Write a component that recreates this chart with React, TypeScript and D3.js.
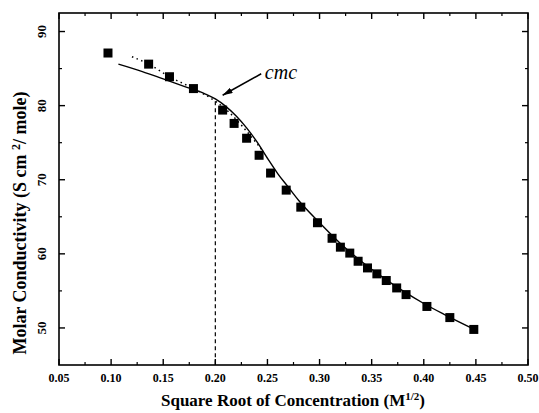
import React from 'react';
import * as d3 from 'd3';

// measured points
const sqrtConc = [0.097, 0.136, 0.156, 0.179, 0.207, 0.218, 0.23, 0.242, 0.253, 0.268, 0.282, 0.298, 0.312, 0.32, 0.329, 0.337, 0.346, 0.355, 0.364, 0.374, 0.383, 0.403, 0.425, 0.448];
const molarCond = [87.1, 85.6, 83.9, 82.3, 79.4, 77.6, 75.6, 73.3, 70.9, 68.6, 66.3, 64.2, 62.1, 60.9, 60.1, 59.0, 58.1, 57.3, 56.4, 55.4, 54.5, 52.9, 51.4, 49.8];

// fitted curve (solid)
const fitX = [0.107, 0.13, 0.15, 0.17, 0.19, 0.2, 0.21, 0.22, 0.23, 0.24, 0.25, 0.26, 0.27, 0.28, 0.3, 0.32, 0.34, 0.36, 0.38, 0.4, 0.42, 0.45];
const fitY = [85.6, 84.6, 83.6, 82.6, 81.6, 80.9, 79.9, 78.6, 77.0, 75.1, 72.9, 70.8, 69.0, 67.2, 64.2, 61.4, 59.0, 56.9, 55.0, 53.3, 51.8, 49.7];

// dotted guide near the break
const dotX = [0.12, 0.136, 0.156, 0.179, 0.2, 0.214, 0.226, 0.238, 0.246];
const dotY = [86.6, 85.6, 83.9, 82.3, 80.6, 79.0, 77.2, 75.2, 73.8];

const cmcX = 0.2;
const cmcY = 80.6;

const xTicks = [0.05, 0.1, 0.15, 0.2, 0.25, 0.3, 0.35, 0.4, 0.45, 0.5];
const xMinor = [0.075, 0.125, 0.175, 0.225, 0.275, 0.325, 0.375, 0.425, 0.475];
const yTicks = [50, 60, 70, 80, 90];
const yMinor = [55, 65, 75, 85];

const W = 539;
const H = 413;
const left = 59, right = 528, top = 13, bottom = 365;

const x = d3.scaleLinear().domain([0.05, 0.5]).range([left, right]);
const y = d3.scaleLinear().domain([45, 92.5]).range([bottom, top]);

const font = 'Liberation Serif, DejaVu Serif, serif';

export default function App() {
  const fitLine = d3.line<number>()
    .x((d, i) => x(fitX[i]))
    .y(d => y(d))
    .curve(d3.curveMonotoneX);
  const dotLine = d3.line<number>()
    .x((d, i) => x(dotX[i]))
    .y(d => y(d))
    .curve(d3.curveMonotoneX);

  const sq = 9;
  const fmt = d3.format('.2f');

  // arrow to cmc
  const ax1 = x(0.244), ay1 = y(84.3);
  const ax2 = x(0.207), ay2 = y(81.4);

  return (
    <svg width={W} height={H} style={{ position: 'absolute', left: 0, top: 0, background: '#fff' }}>
      <defs>
        <marker id="arr" viewBox="0 0 10 6" refX="10" refY="3" markerWidth="10" markerHeight="6" orient="auto" markerUnits="userSpaceOnUse">
          <path d="M0,0 L10,3 L0,6 Z" fill="#000" />
        </marker>
      </defs>

      {/* frame */}
      <rect x={left} y={top} width={right - left} height={bottom - top} fill="none" stroke="#000" strokeWidth={1.6} />

      {/* x ticks (bottom & top, inward) */}
      {xTicks.map(t => (
        <g key={'xt' + t}>
          <line x1={x(t)} x2={x(t)} y1={bottom} y2={bottom - 6} stroke="#000" strokeWidth={1.4} />
          <line x1={x(t)} x2={x(t)} y1={top} y2={top + 6} stroke="#000" strokeWidth={1.4} />
          <text x={x(t)} y={382} textAnchor="middle" fontFamily={font} fontSize={12} fontWeight="bold">{fmt(t)}</text>
        </g>
      ))}
      {xMinor.map(t => (
        <g key={'xm' + t}>
          <line x1={x(t)} x2={x(t)} y1={bottom} y2={bottom - 3} stroke="#000" strokeWidth={1.2} />
          <line x1={x(t)} x2={x(t)} y1={top} y2={top + 3} stroke="#000" strokeWidth={1.2} />
        </g>
      ))}

      {/* y ticks (left & right, inward) */}
      {yTicks.map(t => (
        <g key={'yt' + t}>
          <line x1={left} x2={left + 6} y1={y(t)} y2={y(t)} stroke="#000" strokeWidth={1.4} />
          <line x1={right} x2={right - 6} y1={y(t)} y2={y(t)} stroke="#000" strokeWidth={1.4} />
          <text transform={`translate(46,${y(t)}) rotate(-90)`} textAnchor="middle" fontFamily={font} fontSize={13} fontWeight="bold">{t}</text>
        </g>
      ))}
      {yMinor.map(t => (
        <g key={'ym' + t}>
          <line x1={left} x2={left + 3} y1={y(t)} y2={y(t)} stroke="#000" strokeWidth={1.2} />
          <line x1={right} x2={right - 3} y1={y(t)} y2={y(t)} stroke="#000" strokeWidth={1.2} />
        </g>
      ))}

      {/* axis titles */}
      <text x={293} y={406} textAnchor="middle" fontFamily={font} fontSize={17} fontWeight="bold">
        Square Root of Concentration (M<tspan dy={-6} fontSize={11}>1/2</tspan><tspan dy={6}>)</tspan>
      </text>
      <text transform={`translate(26,223) rotate(-90)`} textAnchor="middle" fontFamily={font} fontSize={18} fontWeight="bold">
        Molar Conductivity (S cm <tspan dy={-6} fontSize={12}>2</tspan><tspan dy={6}>/ mole)</tspan>
      </text>

      {/* cmc marker */}
      <line x1={x(cmcX)} x2={x(cmcX)} y1={y(cmcY)} y2={bottom} stroke="#000" strokeWidth={1.2} strokeDasharray="4,3" />
      <path d={dotLine(dotY) || ''} fill="none" stroke="#000" strokeWidth={1.5} strokeDasharray="1.5,3.5" />
      <path d={fitLine(fitY) || ''} fill="none" stroke="#000" strokeWidth={1.4} />

      {sqrtConc.map((v, i) => (
        <rect key={'p' + i} x={x(v) - sq / 2} y={y(molarCond[i]) - sq / 2} width={sq} height={sq} fill="#000" />
      ))}

      <line x1={ax1} y1={ay1} x2={ax2} y2={ay2} stroke="#000" strokeWidth={1.5} markerEnd="url(#arr)" />
      <text x={x(0.2475)} y={y(83.6)} fontFamily={font} fontSize={20} fontStyle="italic">cmc</text>
    </svg>
  );
}
